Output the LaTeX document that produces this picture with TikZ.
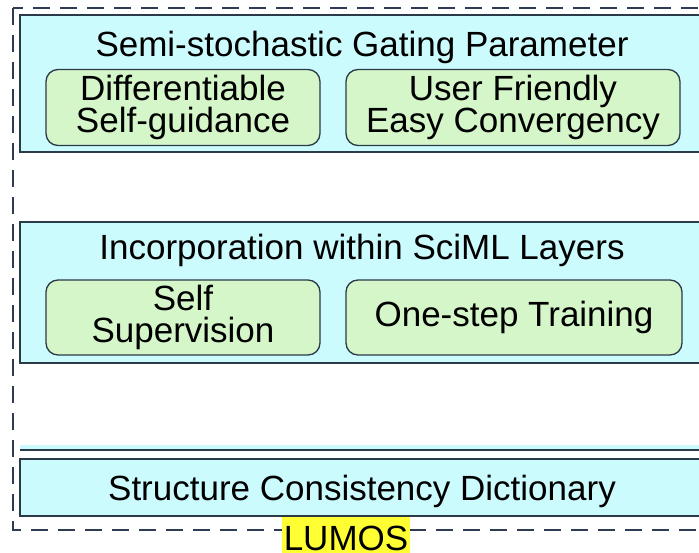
\documentclass[tikz,border=0pt]{standalone}
\usepackage{fontspec}
\setmainfont{Liberation Sans}
\usetikzlibrary{positioning}
\definecolor{layercol}{RGB}{204, 251, 254}
\definecolor{featcol}{RGB}{212, 246, 200}
\definecolor{edgecol}{RGB}{43, 58, 72}
\definecolor{framecol}{RGB}{45, 59, 85}
\definecolor{tagcol}{RGB}{255, 255, 51}
\newcommand{\bigfont}{\fontsize{35}{32}\selectfont}
\tikzset{
  layer/.style={draw=edgecol, line width=1.8pt, fill=layercol, minimum width=684pt,
                inner sep=0pt},
  feat/.style={draw=edgecol, line width=1.3pt, fill=featcol, rounded corners=12pt,
               minimum height=76pt, align=center, inner sep=0pt, font=\bigfont},
  heading/.style={font=\bigfont, inner sep=0pt, anchor=base},
}

\begin{document}
\begin{tikzpicture}[x=1pt, y={(0pt,-1pt)}]
  \useasboundingbox (0,0) rectangle (699,553);
  \clip (0,0) rectangle (699,553);

  \draw[framecol, line width=1.8pt, dash pattern=on 17pt off 10pt]
    (13,8) rectangle (711,530);

  % semi-stochastic gating
  \node[layer, minimum height=137pt] (gate) at (362,83.5) {};
  \node[heading] (gatetitle) at (362,57) {Semi-stochastic Gating Parameter};
  \node[feat, minimum width=274pt] (diff) at (183,107.5) {Differentiable\\Self-guidance};
  \node[feat, minimum width=334pt] (user) at (513,107.5) {User Friendly\\Easy Convergency};

  % sciml layers
  \node[layer, minimum height=141pt] (sciml) at (362,292.5) {};
  \node[heading] (scimltitle) at (362,260) {Incorporation within SciML Layers};
  \node[feat, minimum width=274pt, minimum height=75pt] (selfsup) at (183,317.5) {Self\\Supervision};
  \node[feat, minimum width=336pt, minimum height=75pt] (onestep) at (514,317.5) {One-step Training};

  % dictionary
  \node[fill=layercol, minimum width=684pt, minimum height=5pt, inner sep=0pt] (strip) at (362,447) {};
  \draw[edgecol, line width=2pt] (strip.south west) -- (strip.south east);
  \node[layer, minimum height=57pt] (dict) at (362,487.5) {};
  \node[heading] (dicttitle) at (362,500) {Structure Consistency Dictionary};

  \node[fill=tagcol, minimum width=128pt, minimum height=40pt, inner sep=0pt,
        below=0pt of dict.south, xshift=-16pt, anchor=north] (lumos) {};
  \node[heading] (lumostext) at (346,550) {LUMOS};
\end{tikzpicture}
\end{document}
